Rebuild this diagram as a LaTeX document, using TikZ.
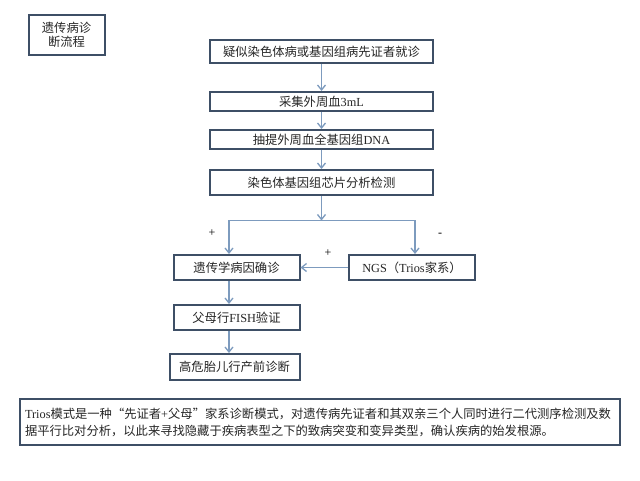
\documentclass[tikz,border=0pt]{standalone}
\usepackage{fontspec}
\setmainfont{Liberation Serif}
\newfontfamily\cjk{Noto Sans CJK SC}
\usetikzlibrary{arrows.meta}
\definecolor{boxline}{HTML}{3E4F66}
\definecolor{arrline}{HTML}{7D9BBE}

\begin{document}
\begin{tikzpicture}[x=1pt, y=-1pt,
    box/.style={draw=boxline, line width=2pt, rectangle, inner sep=0pt, fill=white,
      font=\fontsize{12.3}{14}\selectfont\cjk, text=black!85},
    arr/.style={draw=arrline, line width=1.3pt, -{Straight Barb[length=5pt,width=8pt]}},
    sign/.style={font=\fontsize{12}{12}\selectfont, inner sep=0pt}]
    \useasboundingbox (0,0) rectangle (640,480);

    \node[box, minimum width=76pt, minimum height=40pt, align=center] (title) at (66.5,35) {遗传病诊\\断流程};

    \node[box, minimum width=223pt, minimum height=23pt] (visit) at (321.5,51.5) {疑似染色体病或基因组病先证者就诊};
    \node[box, minimum width=223pt, minimum height=19pt] (blood) at (321.5,101.5) {采集外周血{\rmfamily 3mL}};
    \node[box, minimum width=223pt, minimum height=19pt] (dna) at (321.5,139.5) {抽提外周血全基因组{\rmfamily DNA}};
    \node[box, minimum width=223pt, minimum height=25pt] (chip) at (321.5,182.5) {染色体基因组芯片分析检测};

    \node[box, minimum width=126pt, minimum height=25pt] (confirm) at (236.5,267.5) {遗传学病因确诊};
    \node[box, minimum width=126pt, minimum height=25pt] (ngs) at (412,267.5) {{\rmfamily NGS}（{\rmfamily Trios}家系）};
    \node[box, minimum width=126pt, minimum height=25pt] (fish) at (236.5,317.5) {父母行{\rmfamily FISH}验证};
    \node[box, minimum width=130pt, minimum height=26pt] (fetus) at (234.5,367) {高危胎儿行产前诊断};

    \node[box, minimum width=600pt, minimum height=46pt, text width=590pt, align=left,
      font=\fontsize{12.3}{17}\selectfont\cjk] (note) at (320,422)
      {{\rmfamily Trios}模式是一种“先证者{\rmfamily +}父母”家系诊断模式，对遗传病先证者和其双亲三个人同时进行二代测序检测及数\\
       据平行比对分析，以此来寻找隐藏于疾病表型之下的致病突变和变异类型，确认疾病的始发根源。};

    \coordinate (lx) at (229,0);
    \coordinate (rx) at (415,0);

    \draw[arr] (visit) -- (blood);
    \draw[arr] (blood) -- (dna);
    \draw[arr] (dna) -- (chip);
    \draw[arr] (chip.south) -- ++(0,24.5) coordinate (fork);
    \draw[arr] (fork) -| (confirm.north -| lx);
    \draw[arr] (fork) -| (ngs.north -| rx);
    \draw[arr] (ngs.west) -- (confirm.east);
    \draw[arr] (confirm.south -| lx) -- (fish.north -| lx);
    \draw[arr] (fish.south -| lx) -- (fetus.north -| lx);

    \node[sign] (plusl) at (212,233) {+};
    \node[sign] (plusm) at (328,253) {+};
    \node[sign] (minus) at (440,235) {-};
  \end{tikzpicture}
\end{document}
